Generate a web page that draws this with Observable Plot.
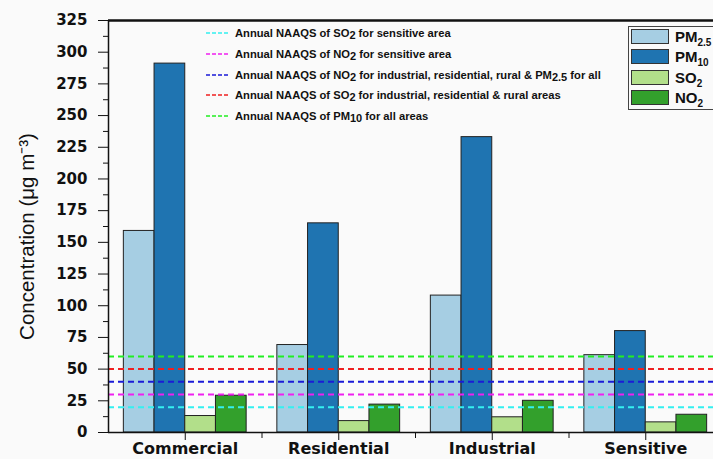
<!DOCTYPE html>
<html><head><meta charset="utf-8">
<script src="https://cdn.jsdelivr.net/npm/d3@7"></script>
<script src="https://cdn.jsdelivr.net/npm/@observablehq/plot@0.6"></script>
<style>
html,body{margin:0;padding:0;background:#fafafa;overflow:hidden;}
#wrap{position:relative;width:713px;height:459px;font-family:"Liberation Sans",Arial,sans-serif;color:#111;}
#wrap > svg{position:absolute;left:0;top:0;}
.nl{position:absolute;left:206px;height:14px;font-family:"Liberation Sans",Arial,sans-serif;font-size:11.2px;font-weight:bold;white-space:nowrap;display:flex;align-items:center;}
.nl svg{margin-right:5px;}
.nl sub{font-size:11px;vertical-align:-2px;line-height:0;}
#pleg{position:absolute;left:628px;top:26px;width:110px;height:82px;border:1px solid #444;}
.pr{position:absolute;left:2px;height:15px;display:flex;align-items:center;font-size:15px;font-weight:bold;}
.sw{width:36px;height:13px;border:1px solid #333;margin-right:6px;}
.pr sub{font-size:10px;vertical-align:-4px;line-height:0;}
</style>
</head><body>
<div id="wrap"></div>
<script>
const categories = ["Commercial", "Residential", "Industrial", "Sensitive"];
const pollutants = ["PM2.5", "PM10", "SO2", "NO2"];
const pollutantLabels = ["PM<sub>2.5</sub>", "PM<sub>10</sub>", "SO<sub>2</sub>", "NO<sub>2</sub>"];
const pm25 = [159, 69, 108, 61];
const pm10 = [291, 165, 233, 80];
const so2 = [13, 9, 12, 8];
const no2 = [29, 22, 25, 14];
const barColors = ["#a6cee3", "#1f74b1", "#b2df8a", "#33a02c"];
const standards = [20, 30, 40, 50, 60];
const standardColors = ["#33f0f0", "#f020f0", "#1a1ad8", "#f02020", "#22ee22"];
const standardLabels = [
  "Annual NAAQS of SO<sub>2</sub> for sensitive area",
  "Annual NAAQS of NO<sub>2</sub> for sensitive area",
  "Annual NAAQS of NO<sub>2</sub> for industrial, residential, rural &amp; PM<sub>2.5</sub> for all",
  "Annual NAAQS of SO<sub>2</sub> for industrial, residential &amp; rural areas",
  "Annual NAAQS of PM<sub>10</sub> for all areas"
];
const yTicks = d3.range(0, 326, 25);
const yMinor = d3.range(12.5, 325, 25);
const yLabel = "Concentration (\u03BCg m\u207B\u00B3)";

const series = [pm25, pm10, so2, no2];
const rows = categories.flatMap((c, i) => pollutants.map((p, j) => ({cat: c, i, j, pollutant: p, value: series[j][i]})));
const std = standards.map((v, k) => ({v, color: standardColors[k]}));
const font = "Liberation Sans, Arial, sans-serif";
const boldFont = "DejaVu Sans, sans-serif";

const plot = Plot.plot({
  width: 713, height: 459,
  marginLeft: 108, marginRight: 0, marginTop: 20, marginBottom: 27,
  style: {fontFamily: font, background: "transparent", color: "#111"},
  x: {domain: [0, 4], range: [108, 722]},
  y: {domain: [0, 325]},
  color: {domain: pollutants, range: barColors},
  marks: [
    Plot.rectY(rows, {x1: d => d.i + 0.1 + d.j * 0.2, x2: d => d.i + 0.1 + (d.j + 1) * 0.2, y1: 0, y2: "value", fill: "pollutant", stroke: "#222", strokeWidth: 1}),
    Plot.ruleY(std, {y: "v", stroke: "color", strokeWidth: 2, strokeDasharray: "6,4"}),
    Plot.ruleY([0], {strokeWidth: 1.5}),
    Plot.ruleX([0], {strokeWidth: 1.5}),
    Plot.ruleY([325], {strokeWidth: 2.5}),
    Plot.axisY(yTicks, {tickSize: 10, tickPadding: 11, fontSize: 15, fontWeight: "bold", fontFamily: boldFont, label: null}),
    Plot.axisY(yMinor, {tickSize: 5, tickFormat: () => "", label: null}),
    Plot.axisX([0.5, 1.5, 2.5, 3.5], {tickFormat: d => categories[Math.floor(d)], tickSize: 8, tickPadding: 2, fontSize: 16, fontWeight: "bold", fontFamily: boldFont, label: null}),
    Plot.axisX([1, 2, 3], {tickSize: 6, tickFormat: () => "", label: null}),
    Plot.text([yLabel], {frameAnchor: "left", rotate: -90, dx: -81, dy: 10, fontSize: 20.5, textAnchor: "middle"})
  ]
});
const wrap = document.getElementById("wrap");
wrap.appendChild(plot);

const tops = [26, 46.5, 67.5, 88, 108.5];
standardLabels.forEach((lab, k) => {
  const d = document.createElement("div");
  d.className = "nl";
  d.style.top = tops[k] + "px";
  d.innerHTML = `<svg width="24" height="4"><line x1="0" x2="24" y1="2" y2="2" stroke="${standardColors[k]}" stroke-width="1.5" stroke-dasharray="4,2"/></svg><span>${lab}</span>`;
  wrap.appendChild(d);
});
const box = document.createElement("div");
box.id = "pleg";
pollutantLabels.forEach((lab, j) => {
  const r = document.createElement("div");
  r.className = "pr";
  r.style.top = (2 + j * 20.3) + "px";
  r.innerHTML = `<div class="sw" style="background:${barColors[j]}"></div><span>${lab}</span>`;
  box.appendChild(r);
});
wrap.appendChild(box);
</script>
</body></html>
